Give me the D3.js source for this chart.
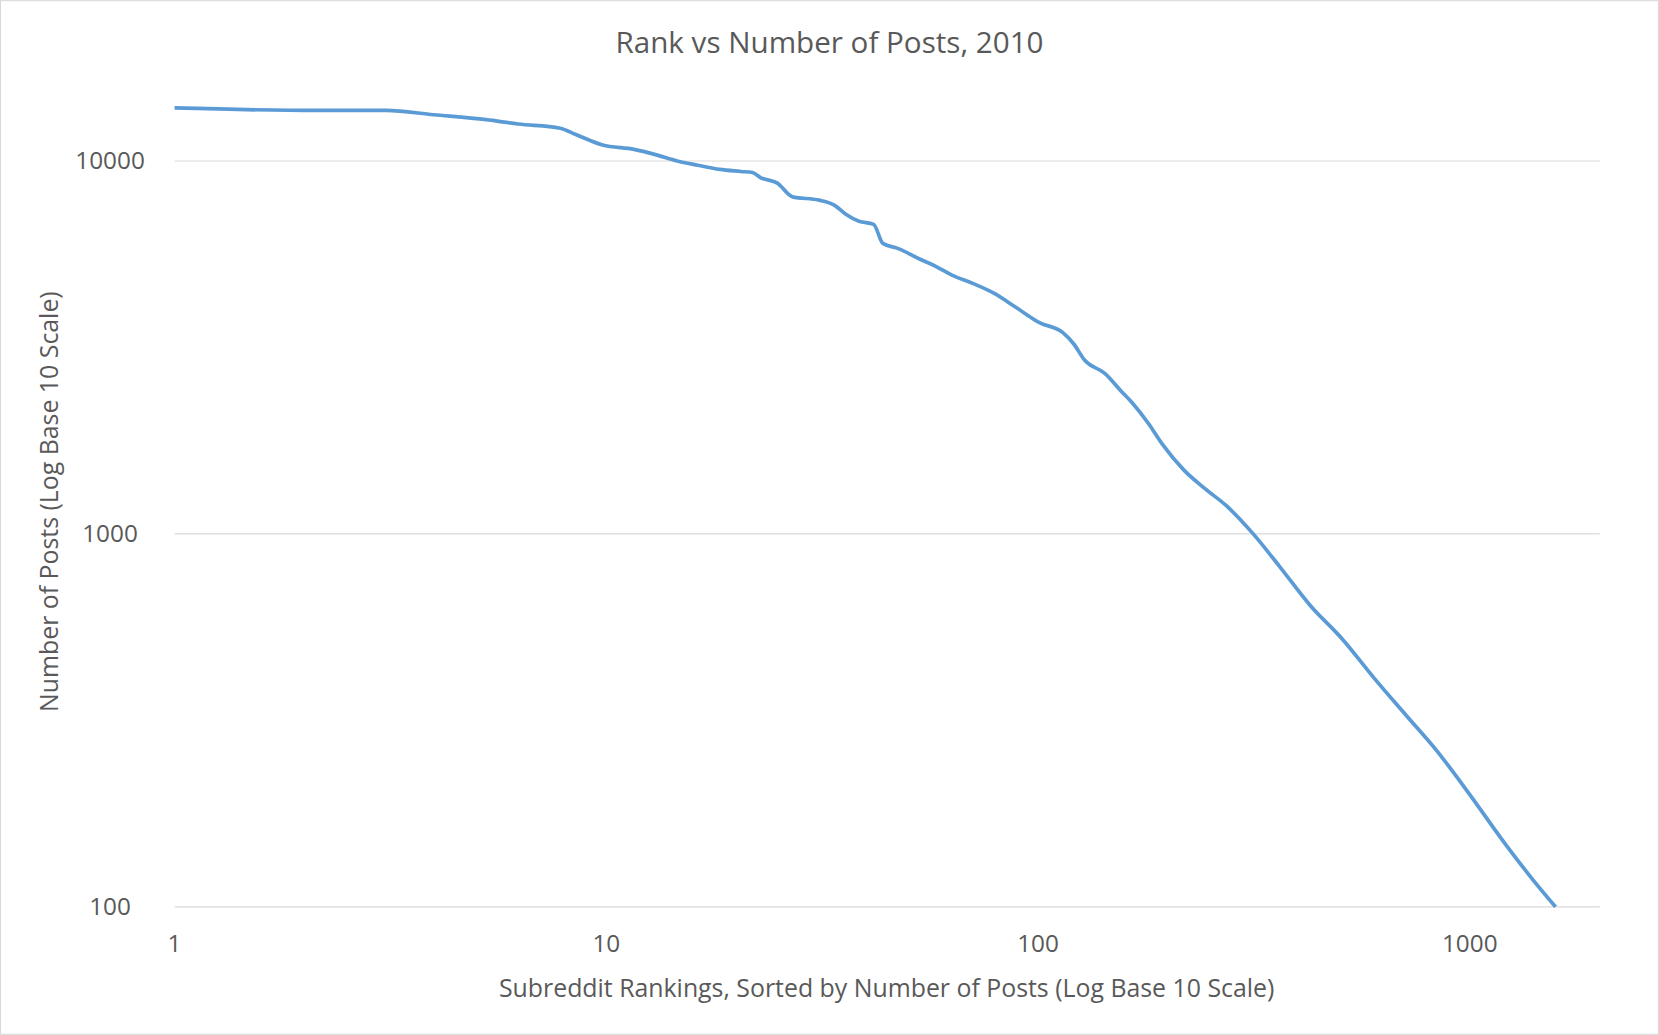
<!DOCTYPE html>
<html><head><meta charset="utf-8">
<script src="https://cdn.jsdelivr.net/npm/d3@7"></script>
<style>body{margin:0;background:#fff}text{font-family:"Open Sans","Noto Sans",sans-serif;fill:#595959}</style>
</head><body>
<svg id="c" width="1659" height="1035" viewBox="0 0 1568 978"></svg>
<script>
const ranks=[1,2.14,3.09,3.98,5.27,6.25,7.82,8.5,9.8,11.6,13,14.6,16.3,18.3,20.5,21.8,22.8,24.9,27,31.1,33.8,35.8,38.5,41.6,43.7,47.5,53.3,58.1,63.2,70.8,79,88.6,101,114,121,128,143,156,165,180,194,218,244,273,315,362,426,507,601,716,839,1000,1190,1402,1580];
const posts=[13870,13660,13660,13300,12900,12560,12240,11770,11030,10740,10400,10000,9740,9490,9370,9310,9010,8720,8010,7850,7600,7210,6890,6760,6010,5820,5450,5210,4940,4690,4420,4060,3680,3470,3230,2930,2690,2410,2250,1980,1740,1480,1320,1190,1000,820,645,522,410,324,262,200,151,118,100];
const xTicks=[1,10,100,1000], yTicks=[100,1000,10000];
const title="Rank vs Number of Posts, 2010";
const xLabel="Subreddit Rankings, Sorted by Number of Posts  (Log Base 10 Scale)";
const yLabel="Number of Posts (Log Base 10 Scale)";

const svg=d3.select("#c");
svg.append("rect").attr("x",0.5).attr("y",0.5).attr("width",1567).attr("height",977).attr("fill","#fff").attr("stroke","#d9d9d9");
const x=d3.scaleLog().domain([1,2000]).range([165,1512]);
const y=d3.scaleLog().domain([100,10000]).range([857,152]);
svg.selectAll(".g").data(yTicks).enter().append("line").attr("x1",165).attr("x2",1512)
 .attr("y1",d=>y(d)).attr("y2",d=>y(d)).attr("stroke","#d9d9d9").attr("stroke-width",1);
svg.selectAll(".yt").data(yTicks).enter().append("text").attr("x",104).attr("y",d=>y(d)+8)
 .attr("text-anchor","middle").attr("font-size",23).text(d=>d);
svg.selectAll(".xt").data(xTicks).enter().append("text").attr("x",d=>x(d)).attr("y",900)
 .attr("text-anchor","middle").attr("font-size",23).text(d=>d);
svg.append("text").attr("x",784).attr("y",50).attr("text-anchor","middle").attr("font-size",28).text(title);
svg.append("text").attr("x",838).attr("y",942).attr("text-anchor","middle").attr("font-size",23.5).text(xLabel);
svg.append("text").attr("transform","translate(55,474) rotate(-90)").attr("text-anchor","middle").attr("font-size",23.5).text(yLabel);
const data=ranks.map((r,i)=>[r,posts[i]]);
svg.append("path").datum(data).attr("fill","none").attr("stroke","#5b9bd5").attr("stroke-width",3.5)
 .attr("stroke-linejoin","round").attr("d",d3.line().x(d=>x(d[0])).y(d=>y(d[1])).curve(d3.curveMonotoneX));
</script></body></html>
